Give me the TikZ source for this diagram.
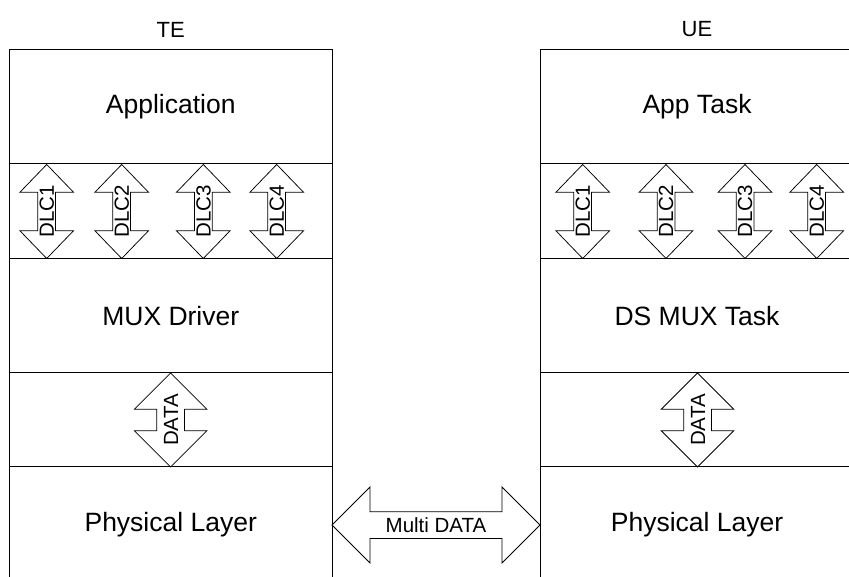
\documentclass[tikz,border=0pt]{standalone}
\usepackage{fontspec}
\setmainfont{Liberation Sans}
\usetikzlibrary{positioning, shapes.arrows}

\begin{document}
\begin{tikzpicture}[x=1pt, y=1pt,
    layer/.style={draw, line width=1pt, outer sep=0pt, inner sep=0pt,
      minimum width=322.5pt, font=\fontsize{26.5}{30}\selectfont},
    side/.style={font=\fontsize{22}{26}\selectfont},
    darrow/.style={draw, double arrow, fill=white, line width=0.75pt,
      inner sep=0pt, outer sep=0pt, minimum width=0pt,
      font=\fontsize{20.5}{24}\selectfont},
    dlcarrow/.style={darrow, rotate=90, minimum height=94pt,
      double arrow tip angle=88, double arrow head extend=18pt,
      text height=15.7pt, text depth=1.3pt},
    dataarrow/.style={darrow, rotate=90, minimum height=94pt,
      double arrow tip angle=90, double arrow head extend=22.4pt,
      text height=21pt, text depth=6pt},
    linkarrow/.style={darrow, minimum height=208pt,
      double arrow tip angle=90, double arrow head extend=24.7pt,
      text height=20.3pt, text depth=5.7pt}]
  \path[use as bounding box, clip] (0,0) rectangle (849,576);

  % TE side
  \node[layer, minimum height=114.5pt, anchor=north west] (teapp) at (9.5,526.5) {Application};
  \node[layer, minimum height=95pt, below=0pt of teapp] (tedlc) {};
  \node[layer, minimum height=114pt, below=0pt of tedlc] (temux) {MUX Driver};
  \node[layer, minimum height=94pt, below=0pt of temux] (tedata) {};
  \node[layer, minimum height=116pt, below=0pt of tedata] (tephy) {Physical Layer};
  \node[side] (te) at (teapp.north |- 0,546.5) {TE};

  % UE side
  \node[layer, minimum width=314pt, minimum height=114.5pt, anchor=north west] (ueapp) at (540,526.5) {App Task};
  \node[layer, minimum width=314pt, minimum height=95pt, below=0pt of ueapp] (uedlc) {};
  \node[layer, minimum width=314pt, minimum height=114pt, below=0pt of uedlc] (uemux) {DS MUX Task};
  \node[layer, minimum width=314pt, minimum height=94pt, below=0pt of uemux] (uedata) {};
  \node[layer, minimum width=314pt, minimum height=116pt, below=0pt of uedata] (uephy) {Physical Layer};
  \node[side] (ue) at (ueapp.north |- 0,546.5) {UE};

  % channels
  \foreach \x [count=\i] in {46.7,121.7,203.3,276.7}
    \node[dlcarrow] (tedlc\i) at (\x,0 |- tedlc.center) {\makebox[0pt]{DLC\i}};
  \foreach \x [count=\i] in {582.7,666,745,816.7}
    \node[dlcarrow] (uedlc\i) at (\x,0 |- uedlc.center) {\makebox[0pt]{DLC\i}};
  \node[dataarrow] (tedataarr) at (170.7,0 |- tedata.center) {\makebox[0pt]{DATA}};
  \node[dataarrow] (uedataarr) at (697.5,0 |- uedata.center) {\makebox[0pt]{DATA}};

  % link
  \node[linkarrow, right=0pt of tephy.east] (link) {\makebox[0pt]{Multi DATA}};
\end{tikzpicture}
\end{document}
